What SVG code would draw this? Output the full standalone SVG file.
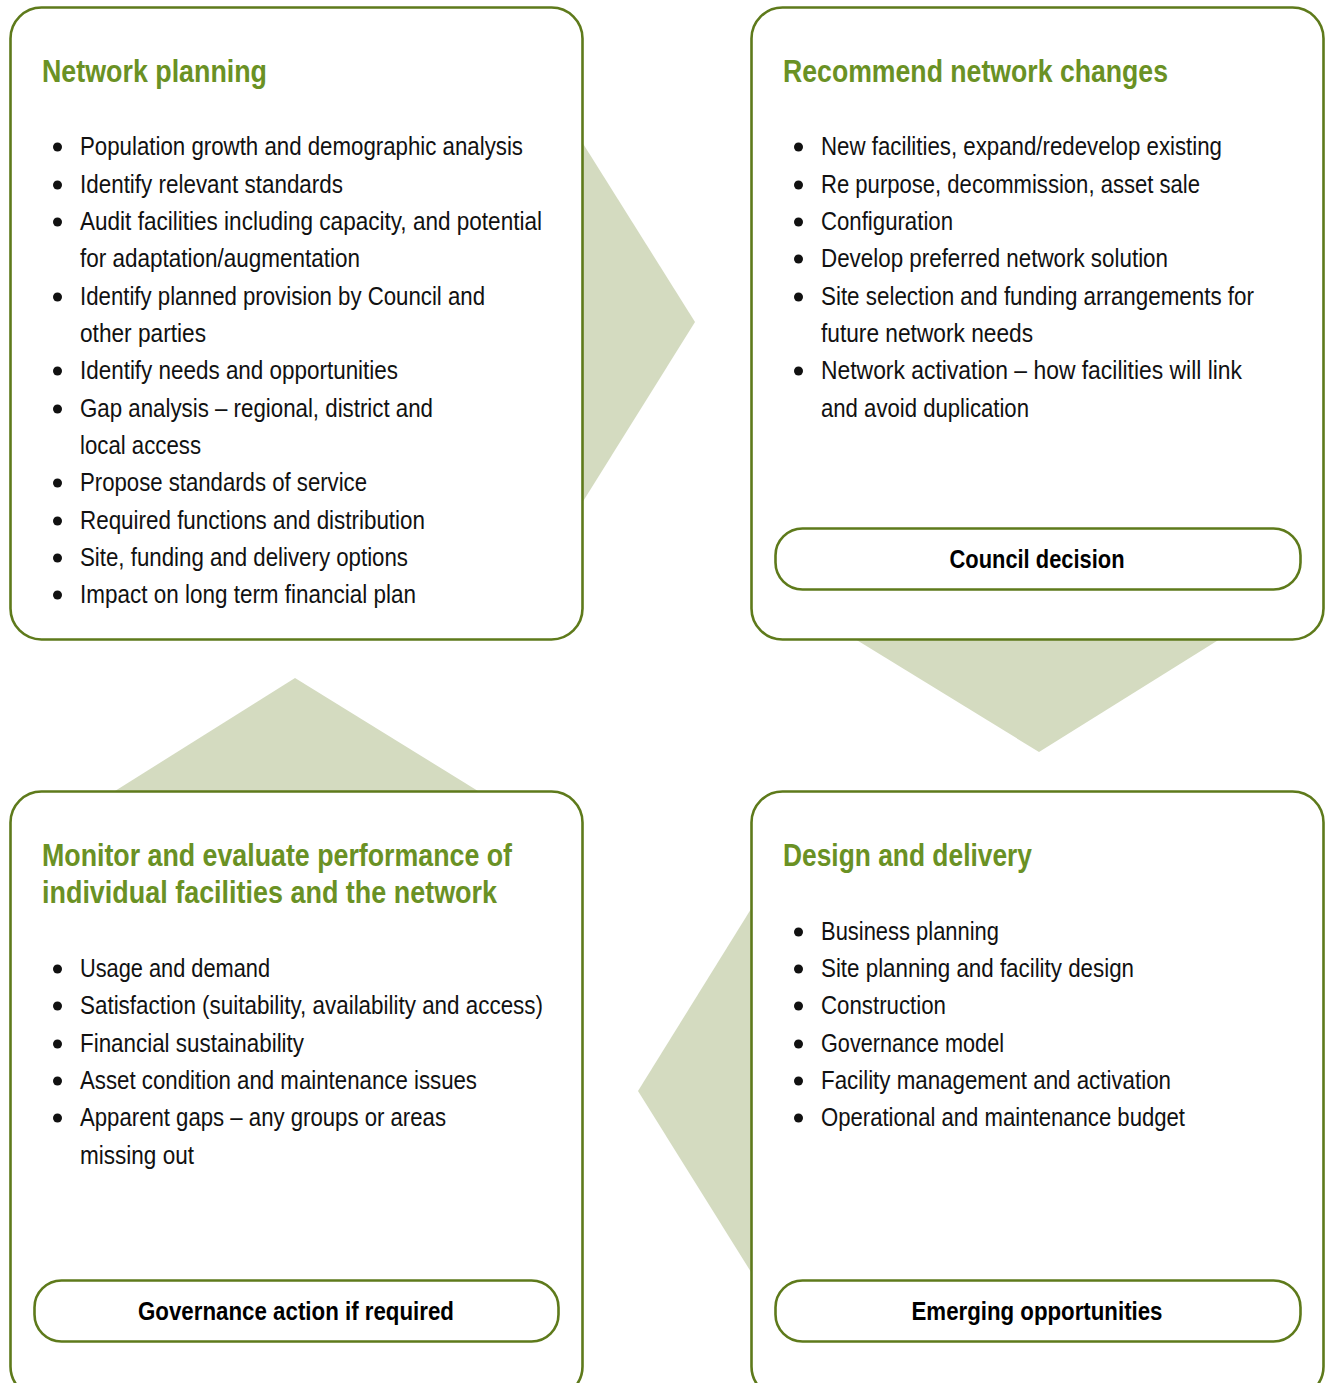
<svg xmlns="http://www.w3.org/2000/svg" width="1327" height="1383" viewBox="0 0 1327 1383">
<style>
.box{fill:#ffffff;stroke:#5e7a1b;stroke-width:2.6}
.pill{fill:#ffffff;stroke:#5e7a1b;stroke-width:2.6}
.arrow{fill:#d4dbc0;stroke:none}
.title{font-family:"Liberation Sans Narrow","Liberation Sans",Arial,sans-serif;font-weight:bold;font-size:32px;fill:#6a9124}
.item{font-family:"Liberation Sans Narrow","Liberation Sans",Arial,sans-serif;font-size:25px;fill:#111111}
.lbl{font-family:"Liberation Sans Narrow","Liberation Sans",Arial,sans-serif;font-weight:bold;font-size:26px;fill:#000000;text-anchor:middle}
.dot{fill:#111111}
</style>
<rect width="1327" height="1383" fill="#ffffff"/>
<g id="connectors">
<polygon class="arrow" points="575,142 582,142 695,322 582,503 575,503"/>
<polygon class="arrow" points="855,632 1220,632 1220,639 1039,752 855,639"/>
<polygon class="arrow" points="115,791 295,678 478,791 478,798 115,798"/>
<polygon class="arrow" points="758,909 751,909 638,1091 751,1272 758,1272"/>
</g>
<g id="network-planning">
<rect class="box" x="10.5" y="7.5" width="572" height="632" rx="31"/>
<text class="title" x="42" y="82" textLength="225" lengthAdjust="spacingAndGlyphs">Network planning</text>
<circle class="dot" cx="57.5" cy="147" r="4.5"/><text class="item" x="80" y="155" textLength="443" lengthAdjust="spacingAndGlyphs">Population growth and demographic analysis</text>
<circle class="dot" cx="57.5" cy="185" r="4.5"/><text class="item" x="80" y="193" textLength="263" lengthAdjust="spacingAndGlyphs">Identify relevant standards</text>
<circle class="dot" cx="57.5" cy="222" r="4.5"/><text class="item" x="80" y="230" textLength="462" lengthAdjust="spacingAndGlyphs">Audit facilities including capacity, and potential</text>
<text class="item" x="80" y="267" textLength="280" lengthAdjust="spacingAndGlyphs">for adaptation/augmentation</text>
<circle class="dot" cx="57.5" cy="297" r="4.5"/><text class="item" x="80" y="305" textLength="405" lengthAdjust="spacingAndGlyphs">Identify planned provision by Council and</text>
<text class="item" x="80" y="342" textLength="126" lengthAdjust="spacingAndGlyphs">other parties</text>
<circle class="dot" cx="57.5" cy="371" r="4.5"/><text class="item" x="80" y="379" textLength="318" lengthAdjust="spacingAndGlyphs">Identify needs and opportunities</text>
<circle class="dot" cx="57.5" cy="409" r="4.5"/><text class="item" x="80" y="417" textLength="353" lengthAdjust="spacingAndGlyphs">Gap analysis – regional, district and</text>
<text class="item" x="80" y="454" textLength="121" lengthAdjust="spacingAndGlyphs">local access</text>
<circle class="dot" cx="57.5" cy="483" r="4.5"/><text class="item" x="80" y="491" textLength="287" lengthAdjust="spacingAndGlyphs">Propose standards of service</text>
<circle class="dot" cx="57.5" cy="521" r="4.5"/><text class="item" x="80" y="529" textLength="345" lengthAdjust="spacingAndGlyphs">Required functions and distribution</text>
<circle class="dot" cx="57.5" cy="558" r="4.5"/><text class="item" x="80" y="566" textLength="328" lengthAdjust="spacingAndGlyphs">Site, funding and delivery options</text>
<circle class="dot" cx="57.5" cy="595" r="4.5"/><text class="item" x="80" y="603" textLength="336" lengthAdjust="spacingAndGlyphs">Impact on long term financial plan</text>
</g>
<g id="recommend-network-changes">
<rect class="box" x="751.5" y="7.5" width="572" height="632" rx="31"/>
<text class="title" x="783" y="82" textLength="385" lengthAdjust="spacingAndGlyphs">Recommend network changes</text>
<circle class="dot" cx="798.5" cy="147" r="4.5"/><text class="item" x="821" y="155" textLength="401" lengthAdjust="spacingAndGlyphs">New facilities, expand/redevelop existing</text>
<circle class="dot" cx="798.5" cy="185" r="4.5"/><text class="item" x="821" y="193" textLength="379" lengthAdjust="spacingAndGlyphs">Re purpose, decommission, asset sale</text>
<circle class="dot" cx="798.5" cy="222" r="4.5"/><text class="item" x="821" y="230" textLength="132" lengthAdjust="spacingAndGlyphs">Configuration</text>
<circle class="dot" cx="798.5" cy="259" r="4.5"/><text class="item" x="821" y="267" textLength="347" lengthAdjust="spacingAndGlyphs">Develop preferred network solution</text>
<circle class="dot" cx="798.5" cy="297" r="4.5"/><text class="item" x="821" y="305" textLength="433" lengthAdjust="spacingAndGlyphs">Site selection and funding arrangements for</text>
<text class="item" x="821" y="342" textLength="212" lengthAdjust="spacingAndGlyphs">future network needs</text>
<circle class="dot" cx="798.5" cy="371" r="4.5"/><text class="item" x="821" y="379" textLength="421" lengthAdjust="spacingAndGlyphs">Network activation – how facilities will link</text>
<text class="item" x="821" y="417" textLength="208" lengthAdjust="spacingAndGlyphs">and avoid duplication</text>
</g>
<g id="council-decision">
<rect class="pill" x="775.5" y="528.5" width="525" height="61" rx="27"/>
<text class="lbl" x="1037" y="568" textLength="175" lengthAdjust="spacingAndGlyphs">Council decision</text>
</g>
<g id="monitor-evaluate">
<rect class="box" x="10.5" y="791.5" width="572" height="606" rx="31"/>
<text class="title" x="42" y="866" textLength="470" lengthAdjust="spacingAndGlyphs">Monitor and evaluate performance of</text>
<text class="title" x="42" y="903" textLength="455" lengthAdjust="spacingAndGlyphs">individual facilities and the network</text>
<circle class="dot" cx="57.5" cy="969" r="4.5"/><text class="item" x="80" y="977" textLength="190" lengthAdjust="spacingAndGlyphs">Usage and demand</text>
<circle class="dot" cx="57.5" cy="1006" r="4.5"/><text class="item" x="80" y="1014" textLength="463" lengthAdjust="spacingAndGlyphs">Satisfaction (suitability, availability and access)</text>
<circle class="dot" cx="57.5" cy="1044" r="4.5"/><text class="item" x="80" y="1052" textLength="224" lengthAdjust="spacingAndGlyphs">Financial sustainability</text>
<circle class="dot" cx="57.5" cy="1081" r="4.5"/><text class="item" x="80" y="1089" textLength="397" lengthAdjust="spacingAndGlyphs">Asset condition and maintenance issues</text>
<circle class="dot" cx="57.5" cy="1118" r="4.5"/><text class="item" x="80" y="1126" textLength="366" lengthAdjust="spacingAndGlyphs">Apparent gaps – any groups or areas</text>
<text class="item" x="80" y="1164" textLength="114" lengthAdjust="spacingAndGlyphs">missing out</text>
</g>
<g id="governance-action">
<rect class="pill" x="34.5" y="1280.5" width="524" height="61" rx="27"/>
<text class="lbl" x="296" y="1320" textLength="316" lengthAdjust="spacingAndGlyphs">Governance action if required</text>
</g>
<g id="design-delivery">
<rect class="box" x="751.5" y="791.5" width="572" height="606" rx="31"/>
<text class="title" x="783" y="866" textLength="249" lengthAdjust="spacingAndGlyphs">Design and delivery</text>
<circle class="dot" cx="798.5" cy="932" r="4.5"/><text class="item" x="821" y="940" textLength="178" lengthAdjust="spacingAndGlyphs">Business planning</text>
<circle class="dot" cx="798.5" cy="969" r="4.5"/><text class="item" x="821" y="977" textLength="313" lengthAdjust="spacingAndGlyphs">Site planning and facility design</text>
<circle class="dot" cx="798.5" cy="1006" r="4.5"/><text class="item" x="821" y="1014" textLength="125" lengthAdjust="spacingAndGlyphs">Construction</text>
<circle class="dot" cx="798.5" cy="1044" r="4.5"/><text class="item" x="821" y="1052" textLength="183" lengthAdjust="spacingAndGlyphs">Governance model</text>
<circle class="dot" cx="798.5" cy="1081" r="4.5"/><text class="item" x="821" y="1089" textLength="350" lengthAdjust="spacingAndGlyphs">Facility management and activation</text>
<circle class="dot" cx="798.5" cy="1118" r="4.5"/><text class="item" x="821" y="1126" textLength="364" lengthAdjust="spacingAndGlyphs">Operational and maintenance budget</text>
</g>
<g id="emerging-opportunities">
<rect class="pill" x="775.5" y="1280.5" width="525" height="61" rx="27"/>
<text class="lbl" x="1037" y="1320" textLength="251" lengthAdjust="spacingAndGlyphs">Emerging opportunities</text>
</g>
</svg>
